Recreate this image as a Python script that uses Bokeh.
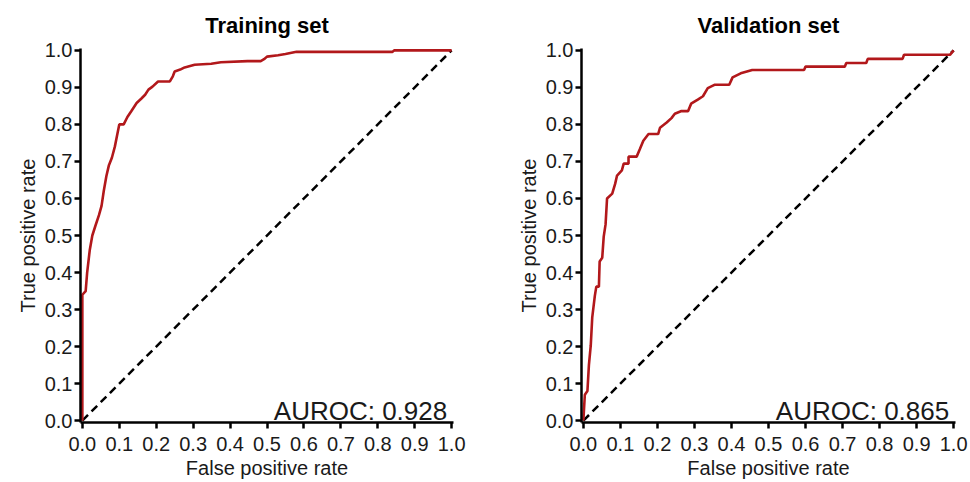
from bokeh.plotting import figure
from bokeh.layouts import row
from bokeh.models import FixedTicker, PrintfTickFormatter, Label, Range1d
from bokeh.embed import file_html
from bokeh.resources import INLINE

# ---- data ----
titles = ["Training set", "Validation set"]
auroc = [0.928, 0.865]
ticks = [0.0, 0.1, 0.2, 0.3, 0.4, 0.5, 0.6, 0.7, 0.8, 0.9, 1.0]
diag = [0.0, 1.0]

train_fpr = [0, 0, 0.009, 0.013, 0.02, 0.027, 0.035, 0.045, 0.052, 0.058,
             0.065, 0.072, 0.08, 0.088, 0.094, 0.1, 0.112, 0.122, 0.132, 0.147,
             0.16, 0.17, 0.179, 0.19, 0.205, 0.237, 0.245, 0.25, 0.265, 0.277,
             0.304, 0.349, 0.375, 0.447, 0.483, 0.492, 0.5, 0.53, 0.55, 0.58,
             0.84, 0.845, 1.0]
train_tpr = [0, 0.34, 0.35, 0.40, 0.46, 0.50, 0.525, 0.555, 0.58, 0.62,
             0.66, 0.69, 0.71, 0.74, 0.77, 0.80, 0.80, 0.82, 0.835, 0.858,
             0.87, 0.88, 0.894, 0.902, 0.916, 0.916, 0.93, 0.943, 0.948, 0.954,
             0.961, 0.964, 0.968, 0.971, 0.971, 0.976, 0.983, 0.987, 0.99, 0.996,
             0.996, 1.0, 1.0]

val_fpr = [0, 0.004, 0.011, 0.015, 0.02, 0.024, 0.031, 0.035, 0.042, 0.044,
           0.051, 0.055, 0.06, 0.064, 0.078, 0.086, 0.091, 0.104, 0.109, 0.122,
           0.122, 0.144, 0.153, 0.162, 0.176, 0.202, 0.207, 0.225, 0.238, 0.247,
           0.265, 0.283, 0.291, 0.309, 0.323, 0.336, 0.354, 0.394, 0.403, 0.425,
           0.456, 0.596, 0.6, 0.706, 0.71, 0.764, 0.768, 0.862, 0.866, 0.99,
           1.0]
val_tpr = [0, 0.07, 0.08, 0.15, 0.203, 0.279, 0.337, 0.362, 0.362, 0.43,
           0.44, 0.497, 0.53, 0.6, 0.613, 0.64, 0.662, 0.676, 0.694, 0.694,
           0.713, 0.713, 0.734, 0.756, 0.774, 0.774, 0.791, 0.805, 0.817, 0.829,
           0.836, 0.836, 0.856, 0.867, 0.876, 0.898, 0.907, 0.907, 0.927, 0.938,
           0.947, 0.947, 0.956, 0.956, 0.966, 0.966, 0.977, 0.977, 0.988, 0.988,
           1.0]

FONT = "Liberation Sans"
RED = "#B2181B"
TXT = "#1a1a1a"


def make(title, fpr, tpr, score, width, bl, br):
    p = figure(width=width, height=482, output_backend="svg", toolbar_location=None,
               x_range=Range1d(-0.005, 1.005), y_range=Range1d(-0.005, 1.005),
               min_border_left=bl, min_border_right=br,
               min_border_top=48, min_border_bottom=60)
    p.outline_line_color = None
    p.grid.visible = False
    p.background_fill_color = "white"
    p.border_fill_color = "white"

    p.title.text = title
    p.title.align = "center"
    p.title.text_font = FONT
    p.title.text_font_size = "22px"
    p.title.text_font_style = "bold"
    p.title.text_color = "black"
    p.title.standoff = 21

    for ax in (p.xaxis[0], p.yaxis[0]):
        ax.ticker = FixedTicker(ticks=ticks)
        ax.formatter = PrintfTickFormatter(format="%.1f")
        ax.axis_line_width = 2.5
        ax.axis_line_color = "black"
        ax.major_tick_line_width = 2.5
        ax.major_tick_line_color = "black"
        ax.major_tick_out = 6
        ax.major_tick_in = 0
        ax.minor_tick_line_color = None
        ax.major_label_text_font = FONT
        ax.major_label_text_font_size = "20px"
        ax.major_label_text_color = TXT
        ax.axis_label_text_font = FONT
        ax.axis_label_text_font_size = "20px"
        ax.axis_label_text_font_style = "normal"
        ax.axis_label_text_color = TXT

    p.xaxis.major_label_standoff = 8
    p.xaxis.axis_label_standoff = 3
    p.yaxis.major_label_standoff = 2
    p.yaxis.axis_label_standoff = 3

    p.xaxis.axis_label = "False positive rate"
    p.yaxis.axis_label = "True positive rate"

    p.line(diag, diag, line_color="black", line_width=2.5, line_dash="8 5")
    p.line(fpr, tpr, line_color=RED, line_width=2.6)

    p.add_layout(Label(x=0.988, y=0.026, text="AUROC: %.3f" % score,
                       text_align="right", text_baseline="alphabetic",
                       text_font=FONT, text_font_size="26px", text_color=TXT))
    return p


p1 = make(titles[0], train_fpr, train_tpr, auroc[0], 478, 80, 25)
p2 = make(titles[1], val_fpr, val_tpr, auroc[1], 492, 103, 15)
layout = row(p1, p2)

open("out.html", "w").write(file_html(layout, INLINE))
